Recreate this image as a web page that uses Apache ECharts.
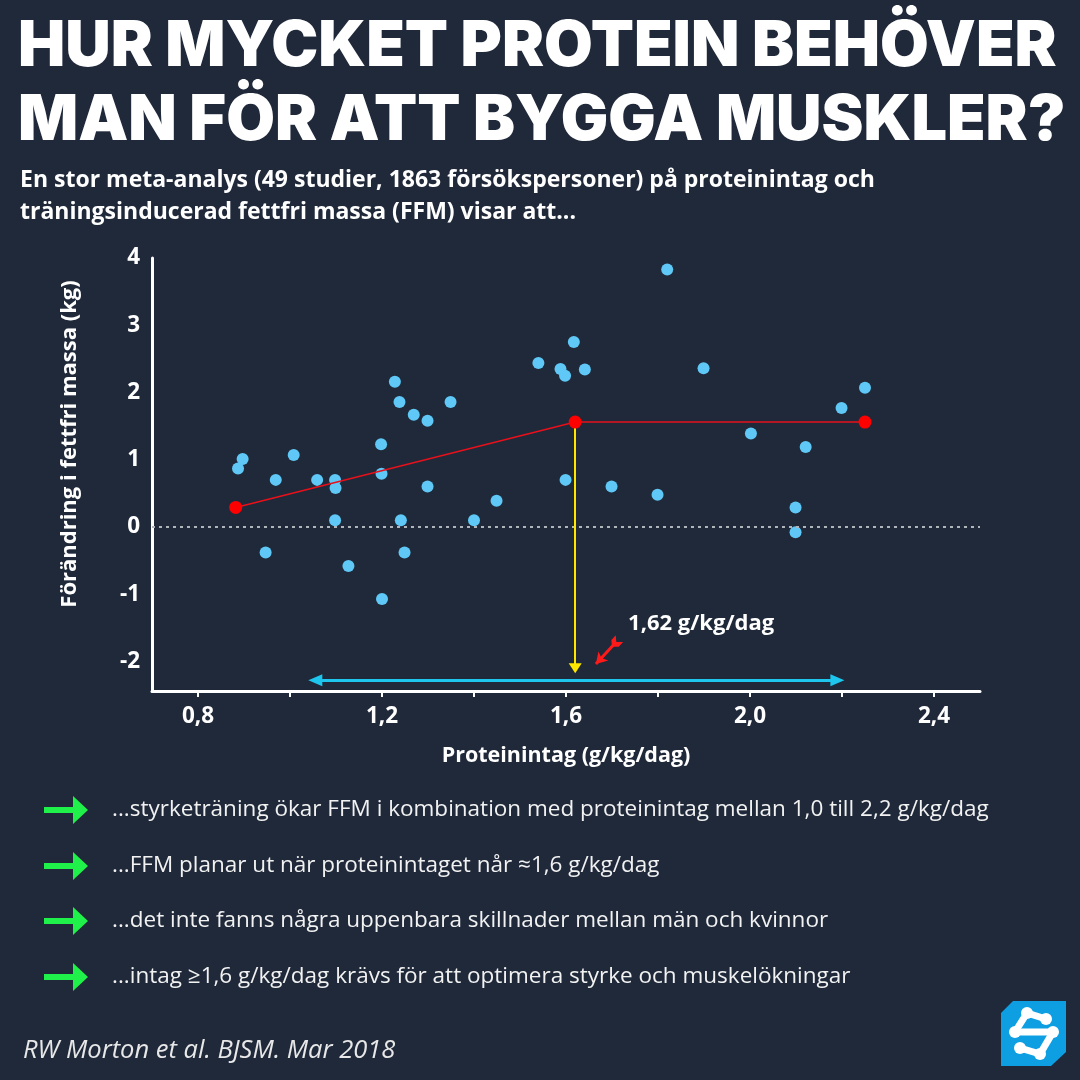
<!DOCTYPE html>
<html>
<head>
<meta charset="utf-8">
<script src="https://cdn.jsdelivr.net/npm/echarts@6/dist/echarts.min.js"></script>
<style>
html, body { margin: 0; padding: 0; background: #1f293a; }
#chart { width: 1080px; height: 1080px; }
</style>
</head>
<body>
<div id="chart"></div>
<script>
// proteinintag (g/kg/dag) per studie
var proteinIntake = [0.887, 0.897, 0.947, 0.969, 1.008, 1.059, 1.098, 1.099, 1.098, 1.127,
    1.198, 1.199, 1.200, 1.228, 1.238, 1.241, 1.249, 1.269, 1.299, 1.299,
    1.349, 1.400, 1.449, 1.540, 1.588, 1.598, 1.599, 1.617, 1.641, 1.699,
    1.799, 1.820, 1.899, 2.002, 2.099, 2.099, 2.121, 2.199, 2.250];
// förändring i fettfri massa (kg)
var ffmChange = [0.87, 1.01, -0.38, 0.70, 1.07, 0.70, 0.70, 0.58, 0.10, -0.58,
    1.23, 0.79, -1.07, 2.16, 1.86, 0.10, -0.38, 1.67, 1.58, 0.60,
    1.86, 0.10, 0.39, 2.44, 2.35, 2.25, 0.70, 2.75, 2.34, 0.60,
    0.48, 3.83, 2.36, 1.39, 0.29, -0.08, 1.19, 1.77, 2.07];

// brytpunktsmodell (röd linje)
var fitX = [0.882, 1.62, 2.25];
var fitY = [0.29, 1.56, 1.56];
var breakpoint = 1.62;
var rangeArrowX = [1.055, 2.19];

var xTickValues = [0.8, 1.0, 1.2, 1.4, 1.6, 1.8, 2.0, 2.2, 2.4];
var xLabelValues = [0.8, 1.2, 1.6, 2.0, 2.4];
var yLabelValues = [-2, -1, 0, 1, 2, 3, 4];

var titleLines = ['HUR MYCKET PROTEIN BEHÖVER', 'MAN FÖR ATT BYGGA MUSKLER?'];
var subtitleLines = [
    'En stor meta-analys (49 studier, 1863 försökspersoner) på proteinintag och',
    'träningsinducerad fettfri massa (FFM) visar att...'
];
var bullets = [
    '...styrketräning ökar FFM i kombination med proteinintag mellan 1,0 till 2,2 g/kg/dag',
    '...FFM planar ut när proteinintaget når ≈1,6 g/kg/dag',
    '...det inte fanns några uppenbara skillnader mellan män och kvinnor',
    '...intag ≥1,6 g/kg/dag krävs för att optimera styrke och muskelökningar'
];
var citation = 'RW Morton et al. BJSM. Mar 2018';

function comma(v, d) {
    return v.toFixed(d).replace('.', ',');
}

// rubrikens storlek så att första raden blir lika bred som i originalet
function fitFontSize(text, weight, family, width) {
    var ctx = document.createElement('canvas').getContext('2d');
    ctx.font = weight + ' 100px ' + family;
    return Math.floor(100 * width / ctx.measureText(text).width);
}

var points = proteinIntake.map(function(x, i) { return [x, ffmChange[i]]; });
var fitLine = fitX.map(function(x, i) { return [x, fitY[i]]; });

var bg = '#1f293a';
var textFont = '"Open Sans", sans-serif';
var titleFamily = 'Inter, sans-serif';
var titleSize = fitFontSize(titleLines[0], 900, titleFamily, 1042);

var graphics = [];
titleLines.forEach(function(t, i) {
    graphics.push({
        type: 'text', x: 18, y: 47 + i * 74,
        style: { text: t, fill: '#ffffff', font: '900 ' + titleSize + 'px ' + titleFamily, verticalAlign: 'middle' }
    });
});
subtitleLines.forEach(function(t, i) {
    graphics.push({
        type: 'text', x: 20, y: 180 + i * 32,
        style: { text: t, fill: '#ffffff', font: 'bold 23px ' + textFont, verticalAlign: 'middle' }
    });
});
graphics.push({
    type: 'text', x: 70, y: 444, rotation: Math.PI / 2,
    style: { text: 'Förändring i fettfri massa (kg)', fill: '#ffffff', font: 'bold 22px ' + textFont,
        align: 'center', verticalAlign: 'middle' }
});
var bulletY = [810, 866, 921, 977];
bullets.forEach(function(t, i) {
    var y = bulletY[i];
    graphics.push({
        type: 'polygon',
        shape: { points: [[44, y - 3], [73, y - 3], [73, y - 14], [88, y], [73, y + 14], [73, y + 3], [44, y + 3]] },
        style: { fill: '#1ff04a' }
    });
    graphics.push({
        type: 'text', x: 112, y: y,
        style: { text: t, fill: '#f2f2f2', font: '22.5px ' + textFont, verticalAlign: 'middle' }
    });
});
graphics.push({
    type: 'text', x: 23, y: 1051,
    style: { text: citation, fill: '#e8e8e8', font: 'italic 25.5px ' + textFont, verticalAlign: 'middle' }
});
// logga
graphics.push({
    type: 'polygon',
    shape: { points: [[1013, 1001], [1066, 1001], [1066, 1052], [1051, 1066], [1001, 1066], [1001, 1013]] },
    style: { fill: '#0e9fe2' }
});
var logoNodes = [[1027, 1013], [1046, 1019], [1015, 1032], [1053, 1032], [1020, 1048], [1040, 1054]];
var logoLinks = [[0, 1], [0, 2], [2, 3], [3, 5], [4, 5]];
logoLinks.forEach(function(l) {
    graphics.push({
        type: 'line',
        shape: { x1: logoNodes[l[0]][0], y1: logoNodes[l[0]][1], x2: logoNodes[l[1]][0], y2: logoNodes[l[1]][1] },
        style: { stroke: '#ffffff', lineWidth: 7, lineCap: 'round' }
    });
});
logoNodes.forEach(function(n) {
    graphics.push({ type: 'circle', shape: { cx: n[0], cy: n[1], r: 6 }, style: { fill: '#ffffff' } });
});

var axisLabelStyle = { color: '#ffffff', fontSize: 22.5, fontWeight: 'bold', fontFamily: textFont };

var option = {
    backgroundColor: bg,
    animation: false,
    grid: { left: 152, right: 100, top: 258, bottom: 389 },
    xAxis: {
        type: 'value', min: 0.7, max: 2.5,
        name: 'Proteinintag (g/kg/dag)', nameLocation: 'middle', nameGap: 54,
        nameTextStyle: { color: '#ffffff', fontSize: 21.5, fontWeight: 'bold', fontFamily: textFont },
        axisLine: { onZero: false, lineStyle: { color: '#ffffff', width: 3 } },
        axisTick: { show: true, customValues: xTickValues, length: 6, lineStyle: { color: '#ffffff', width: 2 } },
        axisLabel: Object.assign({ customValues: xLabelValues, margin: 14,
            formatter: function(v) { return comma(v, 1); } }, axisLabelStyle),
        splitLine: { show: false }
    },
    yAxis: {
        type: 'value', min: -2.44, max: 4,
        axisLine: { show: true, onZero: false, lineStyle: { color: '#ffffff', width: 3 } },
        axisTick: { show: false },
        axisLabel: Object.assign({ customValues: yLabelValues, margin: 12,
            formatter: function(v) { return String(v); } }, axisLabelStyle),
        splitLine: { show: false }
    },
    graphic: graphics,
    series: [
        {
            type: 'scatter',
            data: points,
            symbolSize: 12,
            itemStyle: { color: '#5fc8f6', opacity: 1 },
            markLine: {
                silent: true, symbol: 'none', label: { show: false },
                lineStyle: { color: '#b0b4bb', type: [3, 4], width: 2 },
                data: [{ yAxis: 0 }]
            }
        },
        {
            // gul pil vid brytpunkten
            type: 'line', data: [],
            markLine: {
                silent: true, label: { show: false }, symbol: ['none', 'triangle'], symbolSize: [13, 10],
                lineStyle: { color: '#ffe600', width: 2, type: 'solid' },
                data: [[{ coord: [breakpoint, 1.47] }, { coord: [breakpoint, -2.1] }]]
            }
        },
        {
            // blå dubbelpil 1,0 - 2,2
            type: 'line', data: [],
            markLine: {
                silent: true, label: { show: false }, symbol: ['triangle', 'triangle'], symbolSize: [12, 14],
                lineStyle: { color: '#1ec5ec', width: 3, type: 'solid' },
                data: [[{ coord: [rangeArrowX[0], -2.28] }, { coord: [rangeArrowX[1], -2.28] }]]
            }
        },
        {
            // liten röd pil mot brytpunkten
            type: 'line', data: [],
            markLine: {
                silent: true, label: { show: false },
                symbol: ['path://M0,0 L5,5 L10,0 L10,7 L5,12 L0,7 Z', 'arrow'], symbolSize: [10, 11],
                lineStyle: { color: '#ff1a1a', width: 3, type: 'solid' },
                data: [[{ coord: [1.708, -1.72] }, { coord: [1.665, -2.04] }]]
            }
        },
        {
            type: 'line',
            data: fitLine,
            symbol: 'circle', symbolSize: 13, showSymbol: true,
            lineStyle: { color: '#e8101a', width: 1.5 },
            itemStyle: { color: '#ff0000' },
            z: 5
        },
        {
            // etikett för brytpunkten
            type: 'scatter',
            data: [[1.735, -1.44]],
            symbolSize: 0,
            silent: true,
            itemStyle: { opacity: 1 },
            label: {
                show: true, position: 'right', distance: 0,
                formatter: function() { return comma(breakpoint, 2) + ' g/kg/dag'; },
                color: '#ffffff', fontSize: 22, fontWeight: 'bold', fontFamily: textFont,
                textBorderWidth: 0, opacity: 1
            }
        }
    ]
};

var myChart = echarts.init(document.getElementById('chart'));
myChart.setOption(option);
</script>
</body>
</html>
